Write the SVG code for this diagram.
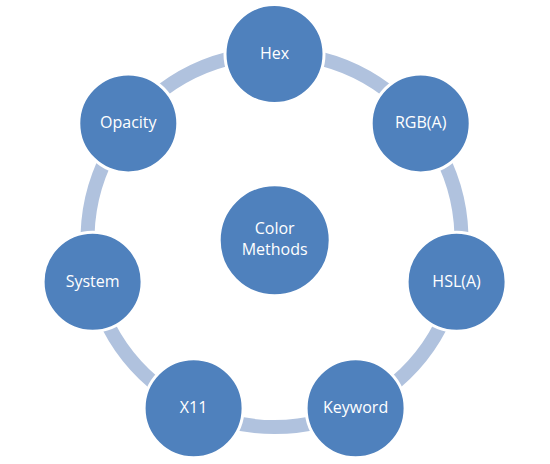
<svg xmlns="http://www.w3.org/2000/svg" width="550" height="464" viewBox="0 0 550 464">
<style>
.arc{fill:none;stroke:#B0C2DE;stroke-width:14;stroke-linecap:butt}
.node circle{fill:#4F81BD;stroke:#FFFFFF;stroke-width:3}
.node text{fill:#FFFFFF;font-family:"Open Sans","Liberation Sans",sans-serif;font-size:16px;text-anchor:middle}
</style>
<rect width="550" height="464" fill="#FFFFFF"/>
<g id="connectors">
<path class="arc" d="M310.18 56.44 A187 187 0 0 1 395.77 97.65"/>
<path class="arc" d="M440.27 153.45 A187 187 0 0 1 461.40 246.07"/>
<path class="arc" d="M445.51 315.65 A187 187 0 0 1 386.27 389.92"/>
<path class="arc" d="M321.98 420.87 A187 187 0 0 1 227.02 420.87"/>
<path class="arc" d="M162.73 389.92 A187 187 0 0 1 103.49 315.65"/>
<path class="arc" d="M87.60 246.07 A187 187 0 0 1 108.73 153.45"/>
<path class="arc" d="M153.23 97.65 A187 187 0 0 1 238.82 56.44"/>
</g>
<g id="center" class="node"><circle cx="274.7" cy="240.2" r="55.5"/><text x="274.7" y="234">Color</text><text x="274.7" y="255">Methods</text></g>
<g id="hex" class="node"><circle cx="274.5" cy="54" r="49.5"/><text x="274.5" y="58.5">Hex</text></g>
<g id="rgba" class="node"><circle cx="420.7" cy="123.4" r="49.5"/><text x="420.7" y="128">RGB(A)</text></g>
<g id="hsla" class="node"><circle cx="456.6" cy="281.8" r="49.5"/><text x="456.6" y="286.5">HSL(A)</text></g>
<g id="keyword" class="node"><circle cx="355.6" cy="408.3" r="49.5"/><text x="355.6" y="413">Keyword</text></g>
<g id="x11" class="node"><circle cx="193.6" cy="408.3" r="49.5"/><text x="193.6" y="413">X11</text></g>
<g id="system" class="node"><circle cx="92.6" cy="281.8" r="49.5"/><text x="92.6" y="286.5">System</text></g>
<g id="opacity" class="node"><circle cx="128.3" cy="123.4" r="49.5"/><text x="128.3" y="128">Opacity</text></g>
</svg>
